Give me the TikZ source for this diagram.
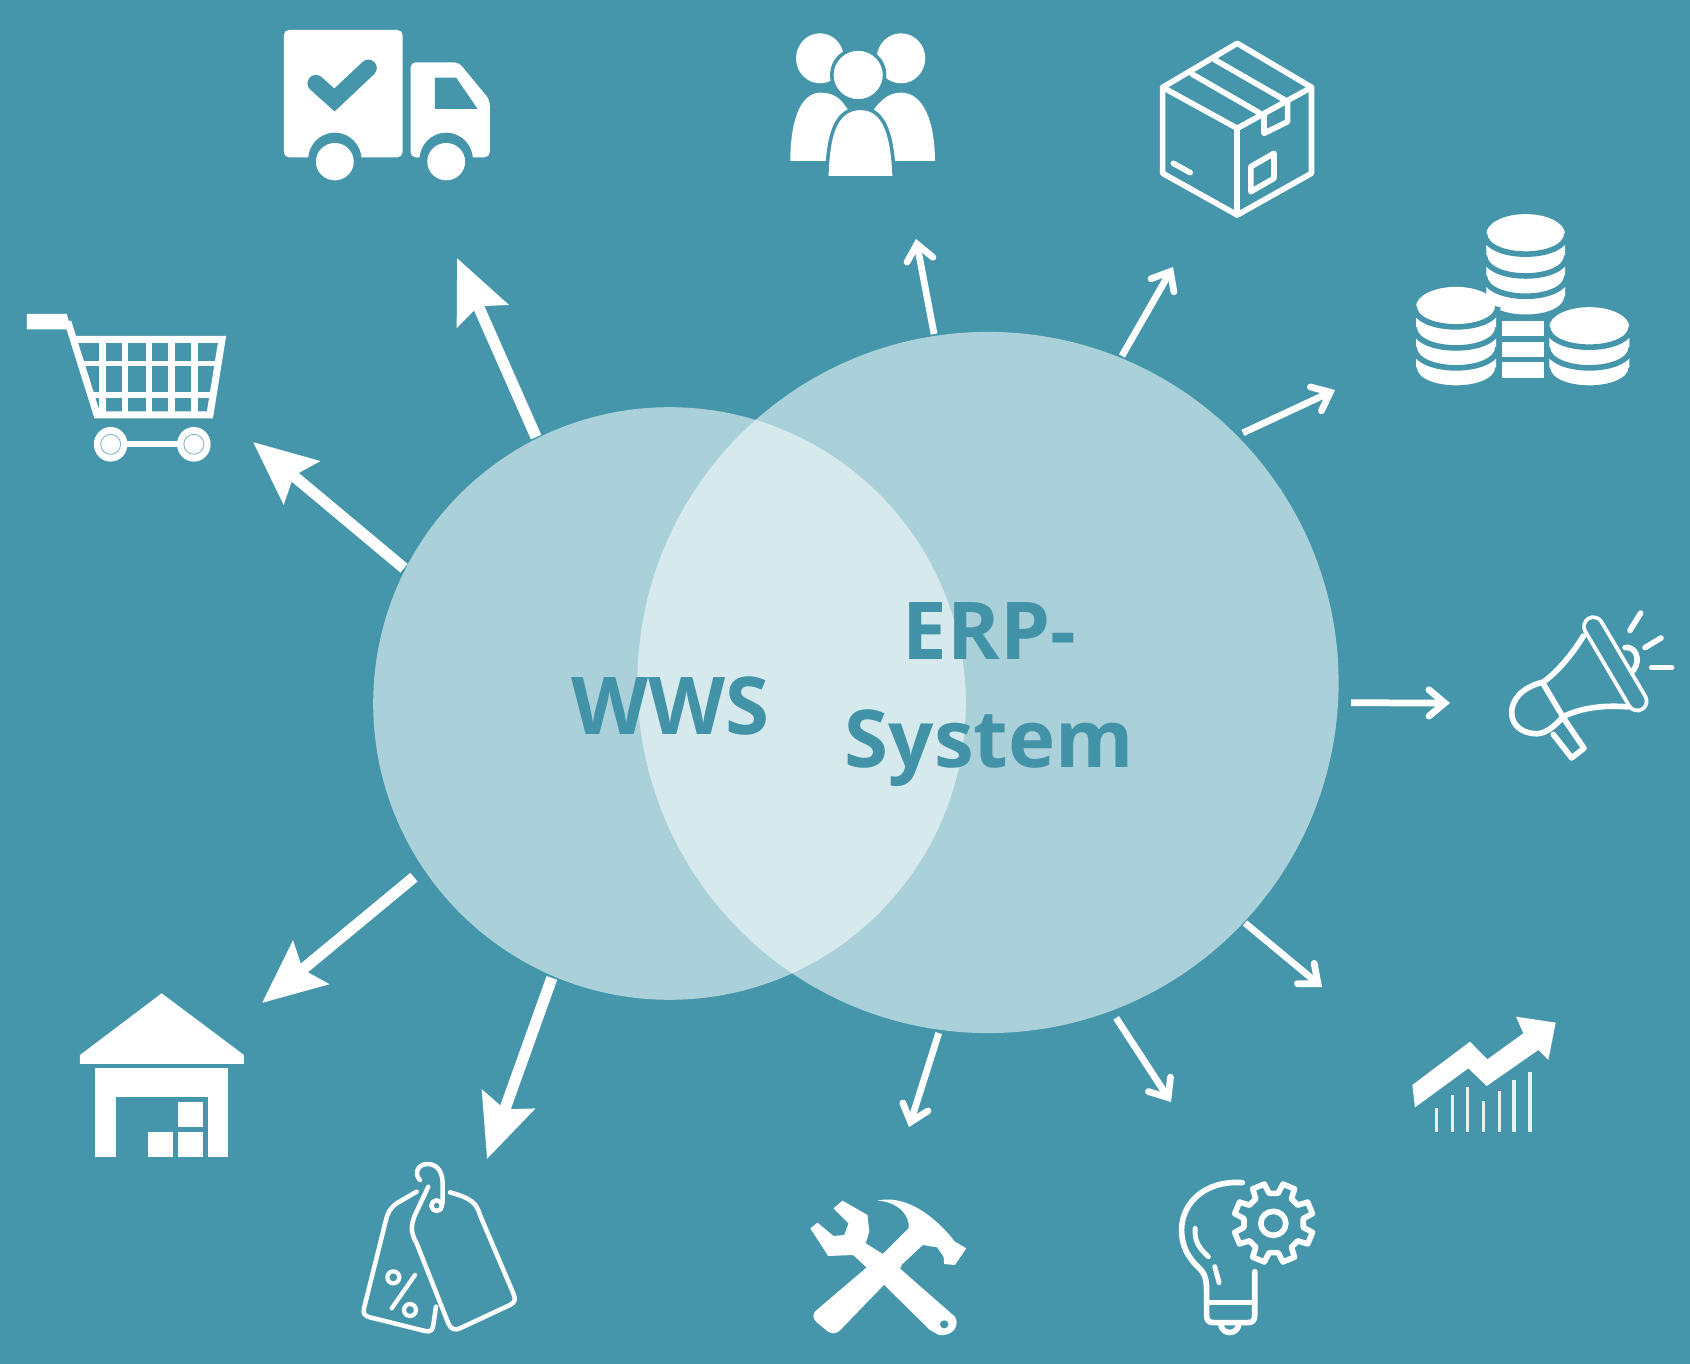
\documentclass[tikz,border=0pt]{standalone}
\usepackage{fontspec}
\setmainfont{Open Sans}
\usetikzlibrary{arrows.meta}
\definecolor{bgteal}{RGB}{69,150,170}
\definecolor{txteal}{RGB}{66,146,168}
\definecolor{vennfill}{RGB}{250,255,255}
\newdimen\pxu \pxu=0.8pt
\tikzset{
  venn/.style={circle,inner sep=0pt,outer sep=0pt,fill=vennfill,fill opacity=.56},
  vennlabel/.style={text=txteal,font=\fontsize{45.4}{61.5}\selectfont\bfseries,align=center,inner sep=0pt},
  bigarrow/.style={draw=white,line width=8\pxu,-{Stealth[length=35.7pt,width=31.2pt,inset=5.7pt]}},
  thinarrow/.style={draw=white,line width=4.8\pxu,-{Straight Barb[length=9pt,width=15pt,line cap=round]}},
  zA/.style={x=0.0071429cm,y=-0.0066667cm},
  zC/.style={x=0.0066667cm,y=-0.0076540cm},
  zD/.style={x=0.0066667cm,y=-0.0066667cm},
  ink/.style={fill=white,draw=none},
  cut/.style={fill=bgteal,draw=none},
  stroke/.style={draw=white,fill=none,line width=#1*\pxu,line cap=round,line join=round},
  stroke/.default=4
}
\newcommand{\coinband}[3]{%
  \fill[white] (#1-#3,#2-40) -- (#1-#3,#2) .. controls (#1-#3,#2+70) and (#1+#3,#2+70) .. (#1+#3,#2) -- (#1+#3,#2-40) -- cycle;
  \draw[bgteal,line width=4\pxu] (#1-#3-6,#2) .. controls (#1-#3,#2+70) and (#1+#3,#2+70) .. (#1+#3+6,#2);}
\newcommand{\cointop}[3]{%
  \fill[white] (#1,#2) circle [x radius=#3,y radius=52];
  \draw[bgteal,line width=4\pxu] (#1-#3-6,#2) .. controls (#1-#3,#2+70) and (#1+#3,#2+70) .. (#1+#3+6,#2);}
\begin{document}
\begin{tikzpicture}[x=0.02cm,y=-0.02cm]
\useasboundingbox (0,0) rectangle (1690,1364);
\fill[bgteal] (0,0) rectangle (1690,1364);

% Venn circles
\node[venn,minimum size=337.3pt] (wws) at (669.5,703.5) {};
\node[venn,minimum size=399.1pt] (erp) at (988,682.5) {};
\node[vennlabel] (wwslabel) at (670.5,706) {WWS};
\node[vennlabel] (erplabel) at (989.5,694.5) {ERP-\\System};

% Arrow ends
\coordinate (t1) at (457,258);
\coordinate (t2) at (253,442);
\coordinate (t3) at (262,1003);
\coordinate (t4) at (487,1159);
\coordinate (s1) at (916,239);
\coordinate (s2) at (1173,267);
\coordinate (s3) at (1335,390);
\coordinate (s4) at (1450,703);
\coordinate (s5) at (1322,987);
\coordinate (s6) at (1171,1102);
\coordinate (s7) at (909,1127);

\draw[bigarrow] ([shift={(-116.6:298)}]wws.center) -- (t1);
\draw[bigarrow] ([shift={(-153:298)}]wws.center) -- (t2);
\draw[bigarrow] ([shift={(-214.2:309)}]wws.center) -- (t3);
\draw[bigarrow] ([shift={(-246.8:298.6)}]wws.center) -- (t4);
\draw[thinarrow] ([shift={(-98.8:352.6)}]erp.center) -- (s1);
\draw[thinarrow] ([shift={(-67.7:353)}]erp.center) -- (s2);
\draw[thinarrow] ([shift={(-44.4:356.8)}]erp.center) -- (s3);
\draw[thinarrow] ([shift={(3.2:363.6)}]erp.center) -- (s4);
\draw[thinarrow] ([shift={(43.1:352)}]erp.center) -- (s5);
\draw[thinarrow] ([shift={(69.1:359)}]erp.center) -- (s6);
\draw[thinarrow] ([shift={(98:354)}]erp.center) -- (s7);

% Truck
\begin{scope}[zA]
\fill[ink,rounded corners=3pt] (795,90) rectangle (1128,472);
\fill[ink,rounded corners=3pt] (1150,187) -- (1285,187) -- (1372,300) -- (1372,472) -- (1150,472) -- cycle;
\fill[cut] (1218,233) -- (1278,233) -- (1338,327) -- (1218,327) -- cycle;
\draw[bgteal,line width=12\pxu,line cap=round,line join=miter] (885,250) -- (937,300) -- (1032,204);
\fill[cut] (938,480) circle [x radius=75,y radius=82];
\fill[cut] (1250,480) circle [x radius=75,y radius=82];
\fill[ink] (938,485) circle [x radius=53,y radius=56];
\fill[ink] (1250,485) circle [x radius=53,y radius=56];
\end{scope}

% Cart
\begin{scope}[zA]
\fill[ink] (75,942) -- (187,942) -- (200,990) -- (182,988) -- (75,988) -- cycle;
\draw[draw=white,line width=5\pxu,line join=miter] (190,965) -- (272,1245) -- (588,1245) -- (622,1018) -- (205,1018);
\foreach \vx in {287,350,417,480,545} \draw[white,line width=4.5\pxu] (\vx,1018) -- (\vx,1245);
\draw[white,line width=3.6\pxu] (226,1090) -- (608,1090);
\draw[white,line width=3.6\pxu] (256,1185) -- (594,1185);
\draw[white,line width=4.5\pxu] (340,1333) -- (520,1333);
\fill[ink] (310,1333) circle [x radius=47,y radius=52];
\fill[ink] (543,1333) circle [x radius=47,y radius=52];
\draw[color=bgteal!70!white,line width=.6\pxu] (310,1333) circle [x radius=28,y radius=30];
\draw[color=bgteal!70!white,line width=.6\pxu] (543,1333) circle [x radius=28,y radius=30];
\end{scope}

% People
\begin{scope}[shift={(760,0)},zA]
\fill[ink] (168,175) circle [x radius=67,y radius=75];
\fill[ink] (395,175) circle [x radius=68,y radius=75];
\fill[ink] (85,483) .. controls (85,370) and (110,278) .. (170,278) .. controls (205,278) and (225,295) .. (240,320) -- (300,400) -- (300,483) -- cycle;
\fill[ink] (490,483) .. controls (490,370) and (460,278) .. (395,278) .. controls (365,278) and (345,295) .. (325,320) -- (270,400) -- (270,483) -- cycle;
\fill[white,draw=bgteal,line width=2.5\pxu] (275,225) circle [x radius=74,y radius=78];
\fill[white,draw=bgteal,line width=2.5\pxu] (187,534) .. controls (190,420) and (205,325) .. (282,325) .. controls (355,325) and (372,420) .. (376,534) -- cycle;
\end{scope}

% Box
\begin{scope}[shift={(760,0)},zA]
\draw[stroke] (1337,130) -- (1545,262) -- (1545,520) -- (1337,645) -- (1128,520) -- (1128,262) -- cycle;
\draw[stroke] (1128,262) -- (1337,385) -- (1545,262);
\draw[stroke] (1337,385) -- (1337,645);
\draw[stroke] (1210,222) -- (1398,338);
\draw[stroke] (1275,180) -- (1470,300);
\draw[stroke] (1412,345) -- (1412,400) -- (1478,365) -- (1478,310);
\draw[stroke] (1375,500) -- (1440,460) -- (1440,535) -- (1375,575) -- cycle;
\draw[stroke] (1158,490) -- (1205,518);
\end{scope}

% Coins
\begin{scope}[shift={(1380,190)},zC]
\fill[ink] (366,342) rectangle (492,380);
\fill[ink] (366,397) rectangle (492,435);
\fill[ink] (366,450) rectangle (492,490);
\coinband{437}{280}{118}
\coinband{437}{225}{118}
\coinband{437}{172}{118}
\cointop{437}{115}{118}
\coinband{228}{465}{120}
\coinband{228}{412}{120}
\coinband{228}{360}{120}
\cointop{228}{305}{120}
\coinband{628}{465}{120}
\coinband{628}{412}{120}
\cointop{628}{358}{120}
\end{scope}

% Megaphone
\begin{scope}[shift={(1380,190)},zC]
\draw[stroke=4] (610,1165) .. controls (575,1215) and (530,1260) .. (490,1285) .. controls (420,1300) and (395,1335) .. (395,1365) .. controls (395,1400) and (430,1420) .. (470,1420) .. controls (500,1420) and (530,1395) .. (550,1375) .. controls (610,1350) and (680,1345) .. (745,1350);
\draw[stroke=4] (490,1290) -- (555,1385);
\draw[stroke=4] (520,1422) -- (575,1483) -- (612,1458) -- (555,1385);
\draw[white,line width=16\pxu,line cap=round] (640,1140) -- (772,1335);
\draw[bgteal,line width=10.5\pxu,line cap=round] (640,1140) -- (772,1335);
\draw[stroke=4] (735,1195) .. controls (765,1190) and (785,1225) .. (760,1255);
\draw[stroke=4] (750,1150) -- (782,1105);
\draw[stroke=4] (795,1195) -- (843,1170);
\draw[stroke=4] (815,1247) -- (875,1247);
\end{scope}

% Warehouse
\begin{scope}[shift={(40,960)},zD]
\fill[ink] (120,285) -- (365,100) -- (612,285) -- (612,312) -- (120,312) -- cycle;
\fill[ink] (165,325) rectangle (565,590);
\fill[cut] (228,410) rectangle (503,590);
\fill[ink] (325,515) rectangle (400,590);
\fill[ink] (415,515) rectangle (490,590);
\fill[ink] (415,427) rectangle (490,500);
\end{scope}

% Price tags
\begin{scope}[shift={(40,960)},zD]
\draw[stroke=3.2] (1165,680) -- (1125,765) .. controls (1112,795) and (1112,820) .. (1130,850) -- (1225,1090) .. controls (1232,1108) and (1245,1112) .. (1260,1105) -- (1410,1035) .. controls (1425,1028) and (1428,1018) .. (1420,1000) -- (1320,765) .. controls (1310,730) and (1295,715) .. (1230,697);
\draw[stroke=3.2] (1130,695) -- (1070,730) .. controls (1050,745) and (1042,760) .. (1038,780) -- (972,1045) .. controls (968,1062) and (975,1068) .. (990,1072) -- (1155,1113) .. controls (1172,1117) and (1178,1110) .. (1180,1095) -- (1188,1040);
\draw[stroke=3.2] (1140,660) .. controls (1120,640) and (1135,612) .. (1162,612) .. controls (1195,612) and (1208,640) .. (1208,670) -- (1208,730);
\draw[stroke=3.2] (1190,737) circle [radius=16];
\draw[stroke=3] (1060,952) circle [radius=18];
\draw[stroke=3] (1110,1050) circle [radius=18];
\draw[stroke=3] (1125,945) -- (1055,1045);
\end{scope}

% Tools
\begin{scope}[shift={(780,1160)},zA]
\fill[ink] (85,205) -- (105,188) -- (150,228) -- (180,225) -- (192,190) -- (150,145) -- (175,122) -- (245,165) -- (250,215) -- (240,250) -- (300,290) -- (330,320) -- (490,470) .. controls (505,495) and (485,530) .. (445,525) -- (420,510) -- (240,320) -- (205,285) -- (135,288) -- cycle;
\fill[ink,rounded corners=2pt] (92,460) -- (300,270) -- (345,315) -- (160,520) -- (140,520) -- (95,480) -- cycle;
\fill[ink] (272,122) .. controls (340,105) and (420,150) .. (490,245) -- (522,265) -- (490,315) -- (460,312) -- (458,290) -- (440,262) -- (400,255) -- (335,320) -- (290,280) -- (360,205) .. controls (365,165) and (330,125) .. (272,122) -- cycle;
\fill[cut] (460,493) circle [radius=12];
\end{scope}

% Bulb
\begin{scope}[shift={(780,1160)},zA]
\draw[stroke=4] (1295,68) .. controls (1190,60) and (1125,130) .. (1125,210) .. controls (1125,270) and (1155,305) .. (1175,325) .. controls (1195,345) and (1195,370) .. (1195,400) -- (1195,465) .. controls (1195,480) and (1200,488) .. (1215,488) -- (1310,488) .. controls (1325,488) and (1330,480) .. (1330,465) -- (1330,335);
\draw[stroke=4] (1195,428) -- (1330,428);
\draw[stroke=4] (1235,495) .. controls (1240,525) and (1280,525) .. (1285,495);
\draw[stroke=3.5] (1163,205) .. controls (1160,245) and (1175,265) .. (1200,290);
\draw[stroke=3.5] (1218,320) -- (1230,368);
\draw[stroke=4] (1382,190) circle [x radius=35,y radius=36];
\end{scope}
\begin{scope}[shift={(1273.6,1223)}]
\draw[stroke=4] (8.5:30) \foreach \a in {22.5,67.5,...,337.5} { -- (\a-14:30) -- (\a-9:40) -- (\a+9:40) -- (\a+14:30)} -- cycle;
\end{scope}

% Trend
\begin{scope}[shift={(1380,1000)},zD]
\fill[ink] (97,255) -- (270,125) -- (322,178) -- (430,100) -- (408,50) -- (527,68) -- (505,180) -- (475,150) -- (320,258) -- (265,205) -- (105,322) -- cycle;
\foreach \bx/\by in {170/325,217/285,263/260,311/302,358/272,402/240,450/215}
  \draw[white,opacity=.88,line width=2.5\pxu] (\bx,395) -- (\bx,\by);
\end{scope}
\end{tikzpicture}
\end{document}
